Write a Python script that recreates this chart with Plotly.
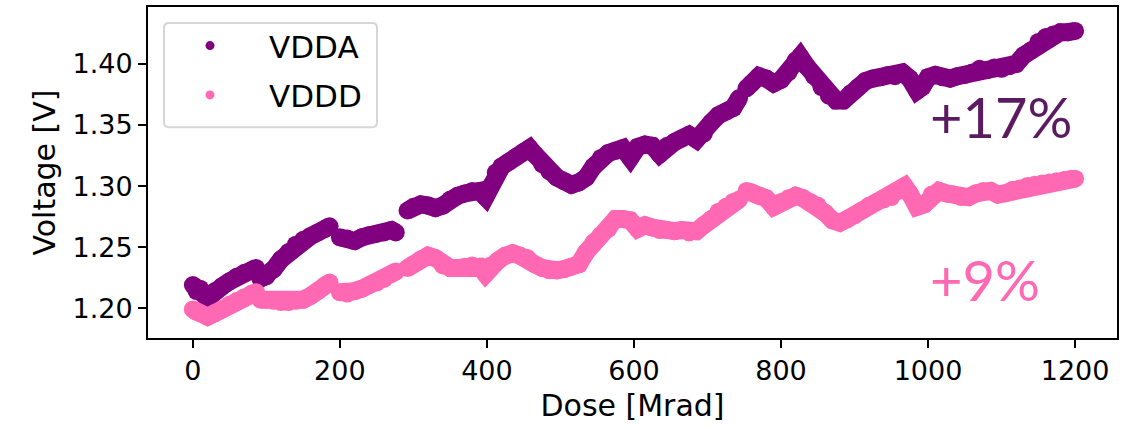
import plotly.graph_objects as go

# ---------------- data ----------------
vdda_dose = [0, 5, 10, 15, 20, 25, 30, 40, 50, 60, 70, 80, 86, None,
             92, 100, 110, 120, 130, 140, 150, 160, 170, 180, 186, None,
             200, 210, 220, 230, 240, 250, 260, 270, 276, None,
             292, 300, 310, 320, 330, 340, 350, 360, 370, 380, 390, 398, 405, 412, 420, 430, 440, 450, 458,
             465, 475, 485, 495, 505, 515, 525, 535, 545, 555, 565, 575, 585, 595, 605, 615, 625, 635, 645,
             655, 665, 675, 685, 695, 705, 715, 725, 735, 743, None,
             753, 760, 770, 780, 790, 800, 810, 820, 826, 835, 845, 855, 865, 875, 885, 895, 905, 915, 925,
             935, 945, 955, 965, 975, 985, 992, 1000, 1010, 1020, 1030, 1040, 1050, 1060, 1070, 1080, 1090,
             1100, 1110, 1120, 1130, 1140, 1150, 1160, 1170, 1180, 1190, 1200]
vdda_volt = [1.219, 1.214, 1.216, 1.211, 1.208, 1.212, 1.214, 1.218, 1.222, 1.226, 1.229, 1.231, 1.233, None,
             1.224, 1.226, 1.232, 1.240, 1.246, 1.252, 1.256, 1.259, 1.262, 1.265, 1.267, None,
             1.258, 1.257, 1.255, 1.258, 1.260, 1.261, 1.262, 1.264, 1.262, None,
             1.280, 1.283, 1.285, 1.284, 1.282, 1.284, 1.289, 1.292, 1.294, 1.296, 1.296, 1.291, 1.300, 1.311,
             1.316, 1.320, 1.324, 1.328, 1.331,
             1.326, 1.318, 1.312, 1.307, 1.304, 1.301, 1.303, 1.307, 1.316, 1.323, 1.327, 1.329, 1.331, 1.323,
             1.332, 1.334, 1.333, 1.326, 1.333,
             1.336, 1.339, 1.342, 1.338, 1.343, 1.352, 1.358, 1.361, 1.364, 1.372, None,
             1.380, 1.384, 1.390, 1.388, 1.384, 1.387, 1.393, 1.403, 1.406, 1.398, 1.390, 1.381, 1.374, 1.370,
             1.370, 1.376, 1.381, 1.386, 1.388,
             1.389, 1.391, 1.390, 1.393, 1.388, 1.378, 1.381, 1.389, 1.391, 1.389, 1.388, 1.390, 1.391, 1.393,
             1.396, 1.395, 1.397,
             1.396, 1.398, 1.400, 1.407, 1.411, 1.418, 1.422, 1.424, 1.426, 1.426, 1.427]

vddd_dose = [0, 5, 10, 20, 30, 40, 50, 60, 70, 80, 86, None,
             92, 100, 110, 120, 130, 140, 150, 160, 170, 180, 186, None,
             200, 210, 220, 230, 240, 250, 260, 270, 276, None,
             292, 300, 310, 320, 330, 340, 350, 360, 370, 380, 390, 398, 405, 415, 425, 435, 445, 455, 465,
             475, 485, 495, 505, 515, 525, 535, 545, 555, 565, 575, 585, 595, 605, 615, 625, 635, 645, 655,
             665, 675, 685, 695, 705, 715, 725, 735, 743, None,
             753, 760, 770, 780, 790, 800, 810, 820, 830, 840, 850, 860, 870, 880, 890, 900, 910, 920, 930,
             940, 950, 960, 968, 975, 985, 995, 1005, 1015, 1025, 1035, 1045, 1055, 1065, 1075, 1085, 1095,
             1105, 1115, 1125, 1135, 1145, 1155, 1165, 1175, 1185, 1195, 1200]
vddd_volt = [1.199, 1.197, 1.196, 1.193, 1.196, 1.199, 1.203, 1.206, 1.209, 1.212, 1.213, None,
             1.207, 1.207, 1.206, 1.205, 1.205, 1.206, 1.207, 1.210, 1.214, 1.219, 1.221, None,
             1.213, 1.212, 1.214, 1.216, 1.219, 1.221, 1.224, 1.228, 1.230, None,
             1.233, 1.236, 1.240, 1.243, 1.241, 1.235, 1.233, 1.233, 1.234, 1.235, 1.234, 1.228, 1.235, 1.239,
             1.243, 1.245, 1.243, 1.241, 1.236,
             1.233, 1.231, 1.231, 1.232, 1.234, 1.236, 1.246, 1.254, 1.260, 1.265, 1.273, 1.273, 1.272, 1.265,
             1.268, 1.266, 1.264, 1.264, 1.263,
             1.264, 1.262, 1.263, 1.268, 1.273, 1.279, 1.283, 1.287, 1.289, None,
             1.296, 1.295, 1.292, 1.290, 1.283, 1.287, 1.290, 1.292, 1.290, 1.287, 1.284, 1.278, 1.272, 1.270,
             1.273, 1.276, 1.280, 1.284, 1.287,
             1.289, 1.291, 1.296, 1.300, 1.294, 1.283, 1.285, 1.293, 1.296, 1.294, 1.293, 1.291, 1.291, 1.294,
             1.296, 1.296, 1.293,
             1.294, 1.297, 1.298, 1.300, 1.301, 1.302, 1.303, 1.304, 1.305, 1.306, 1.306]

series_names = ["VDDA", "VDDD"]
series_colors = ["#800080", "#FF69B4"]
x_ticks = [0, 200, 400, 600, 800, 1000, 1200]
y_ticks = [1.20, 1.25, 1.30, 1.35, 1.40]
annot_texts = ["+17%", "+9%"]
annot_colors = ["#5B1B61", "#FF69B4"]
annot_y = [1.3567, 1.2235]
annot_x = 1000

# ---------------- figure ----------------
W, H = 1130, 430
ML, MR, MT, MB = 148, 13, 5, 92
pw, ph = W - ML - MR, H - MT - MB

fig = go.Figure()
for xs, ys, name, col in [(vdda_dose, vdda_volt, series_names[0], series_colors[0]),
                          (vddd_dose, vddd_volt, series_names[1], series_colors[1])]:
    fig.add_trace(go.Scatter(x=xs, y=ys, mode="lines+markers", showlegend=False,
                             line=dict(color=col, width=18),
                             marker=dict(color=col, size=18, line=dict(width=0))))
for i, (name, col) in enumerate(zip(series_names, series_colors)):
    fig.add_trace(go.Scatter(x=[None], y=[None], mode="markers", name=name,
                             legendgroup=name, showlegend=True,
                             marker=dict(color=col, size=9)))

for txt, col, yv in zip(annot_texts, annot_colors, annot_y):
    fig.add_annotation(x=annot_x, y=yv, xref="x", yref="y", text=txt, showarrow=False,
                       xanchor="left", yanchor="middle",
                       font=dict(family="Lato", size=56, color=col))

# rounded legend frame (pixel -> paper)
def px2paper(px, py):
    return (px - ML) / pw, 1 - (py - MT) / ph

lx0, ly0, lx1, ly1, r = 164, 21, 377, 126, 5
def P(x, y):
    a, b = px2paper(x, y)
    return f"{a:.5f},{b:.5f}"
path = (f"M {P(lx0 + r, ly0)} L {P(lx1 - r, ly0)} Q {P(lx1, ly0)} {P(lx1, ly0 + r)} "
        f"L {P(lx1, ly1 - r)} Q {P(lx1, ly1)} {P(lx1 - r, ly1)} "
        f"L {P(lx0 + r, ly1)} Q {P(lx0, ly1)} {P(lx0, ly1 - r)} "
        f"L {P(lx0, ly0 + r)} Q {P(lx0, ly0)} {P(lx0 + r, ly0)} Z")
fig.add_shape(type="path", xref="paper", yref="paper", path=path,
              line=dict(color="#D6D6D6", width=2), fillcolor="rgba(255,255,255,0.8)", layer="above")

lgx, lgy = px2paper(lx0 - 13, ly0 - 4)
fig.update_layout(
    width=W, height=H,
    margin=dict(l=ML, r=MR, t=MT, b=MB, pad=0),
    paper_bgcolor="white", plot_bgcolor="white",
    font=dict(family="DejaVu Sans", color="black"),
    legend=dict(x=lgx, y=lgy, xanchor="left", yanchor="top",
                bgcolor="rgba(0,0,0,0)", borderwidth=0,
                font=dict(family="DejaVu Sans", size=31, color="black"),
                itemwidth=108, tracegroupgap=6),
    xaxis=dict(range=[-61, 1257], tickvals=x_ticks, ticktext=[str(v) for v in x_ticks],
               showgrid=False, zeroline=False, showline=True, linecolor="black", linewidth=2,
               mirror=True, ticks="outside", ticklen=8, tickwidth=2, tickcolor="black",
               tickfont=dict(size=27, family="DejaVu Sans"),
               title=dict(text="Dose [Mrad]", font=dict(size=30, family="DejaVu Sans"), standoff=10)),
    yaxis=dict(range=[1.1756, 1.4466], tickvals=y_ticks, ticktext=[f"{v:.2f}" for v in y_ticks],
               showgrid=False, zeroline=False, showline=True, linecolor="black", linewidth=2,
               mirror=True, ticks="outside", ticklen=8, tickwidth=2, tickcolor="black",
               tickfont=dict(size=27, family="DejaVu Sans"),
               title=dict(text="Voltage [V]", font=dict(size=30, family="DejaVu Sans"), standoff=8)),
)

fig.write_html("out.html")
